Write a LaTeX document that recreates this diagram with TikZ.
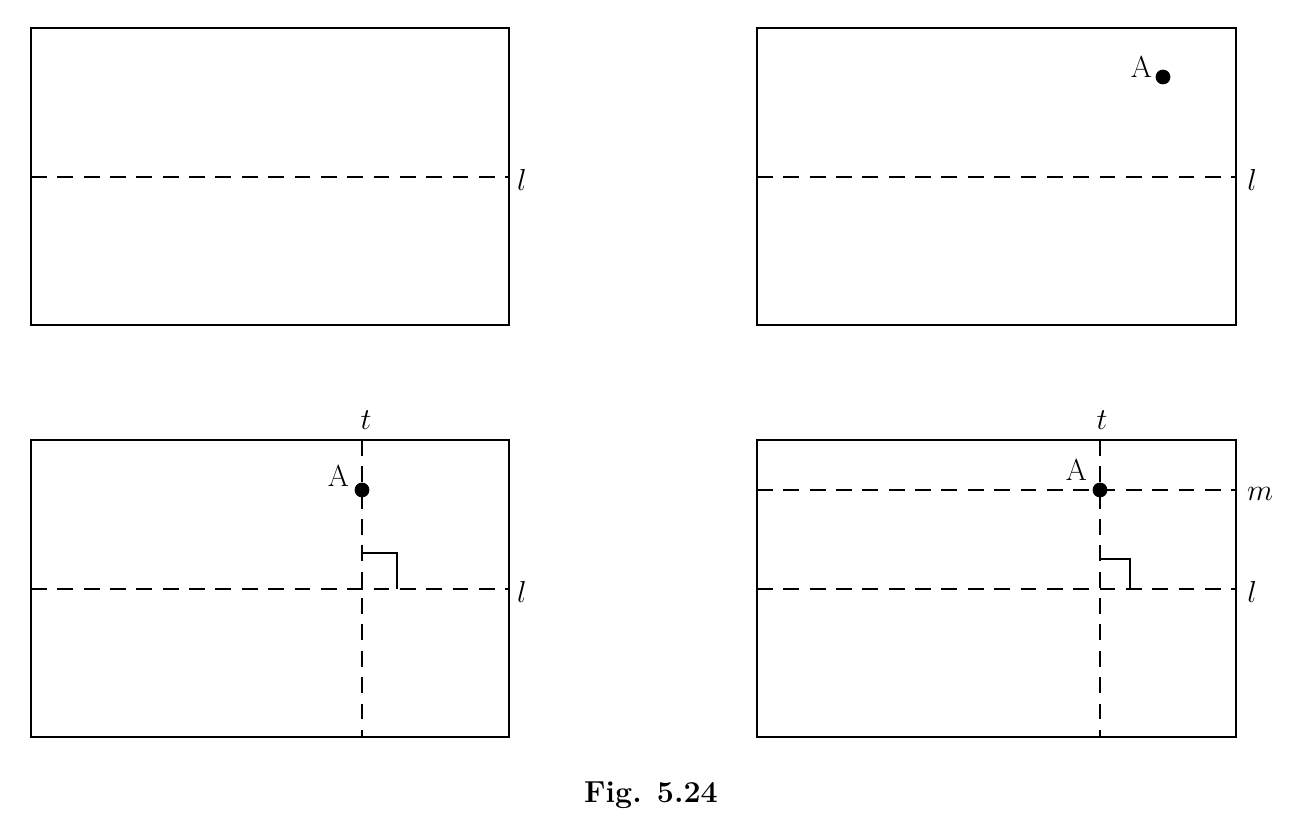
\documentclass[tikz,border=0pt]{standalone}
\usepackage{amsmath,amssymb}
\begin{document}
\begin{tikzpicture}[x=0.02cm, y=-0.02cm, >=stealth,
    frame/.style={line width=1.4pt},
    fold/.style={line width=1.4pt, dash pattern=on 9pt off 6pt},
    lab/.style={font=\LARGE}]
\useasboundingbox (0,0) rectangle (1301,816);

% Khung
    \draw[frame] (31,28) rectangle (509,325);
    \draw[frame] (757,28) rectangle (1236,325);
    \draw[frame] (31,440) rectangle (509,737);
    \draw[frame] (757,440) rectangle (1236,737);

% Hình 1
    \draw[fold] (31,177) -- (509,177);
    \node[lab] (l1) at (522,180) {$l$};

% Hình 2
    \draw[fold] (757,177) -- (1236,177);
    \node[lab] (l2) at (1252,180) {$l$};
    \filldraw (1163,77) circle (4pt);
    \node[lab, anchor=base east] (A2) at (1158,77) {A};

% Hình 3
    \draw[fold] (31,589) -- (509,589);
    \draw[fold] (362,440) -- (362,737);
    \node[lab] (l3) at (522,592) {$l$};
    \node[lab] (t3) at (366,420) {$t$};
    \draw[line width=1.4pt] (362,553) -- (397,553) -- (397,589);
    \filldraw (362,490) circle (4pt);
    \node[lab, anchor=base east] (A3) at (355,486) {A};

% Hình 4
    \draw[fold] (757,589) -- (1236,589);
    \draw[fold] (757,490) -- (1236,490);
    \draw[fold] (1100,440) -- (1100,737);
    \node[lab] (l4) at (1252,592) {$l$};
    \node[lab] (m4) at (1260,494) {$m$};
    \node[lab] (t4) at (1102,420) {$t$};
    \draw[line width=1.4pt] (1100,559) -- (1130,559) -- (1130,589);
    \filldraw (1100,490) circle (4pt);
    \node[lab, anchor=base east] (A4) at (1093,480) {A};

% Chú thích
    \node[font=\LARGE\bfseries] (cap) at (651,795) {Fig. 5.24};
\end{tikzpicture}
\end{document}
